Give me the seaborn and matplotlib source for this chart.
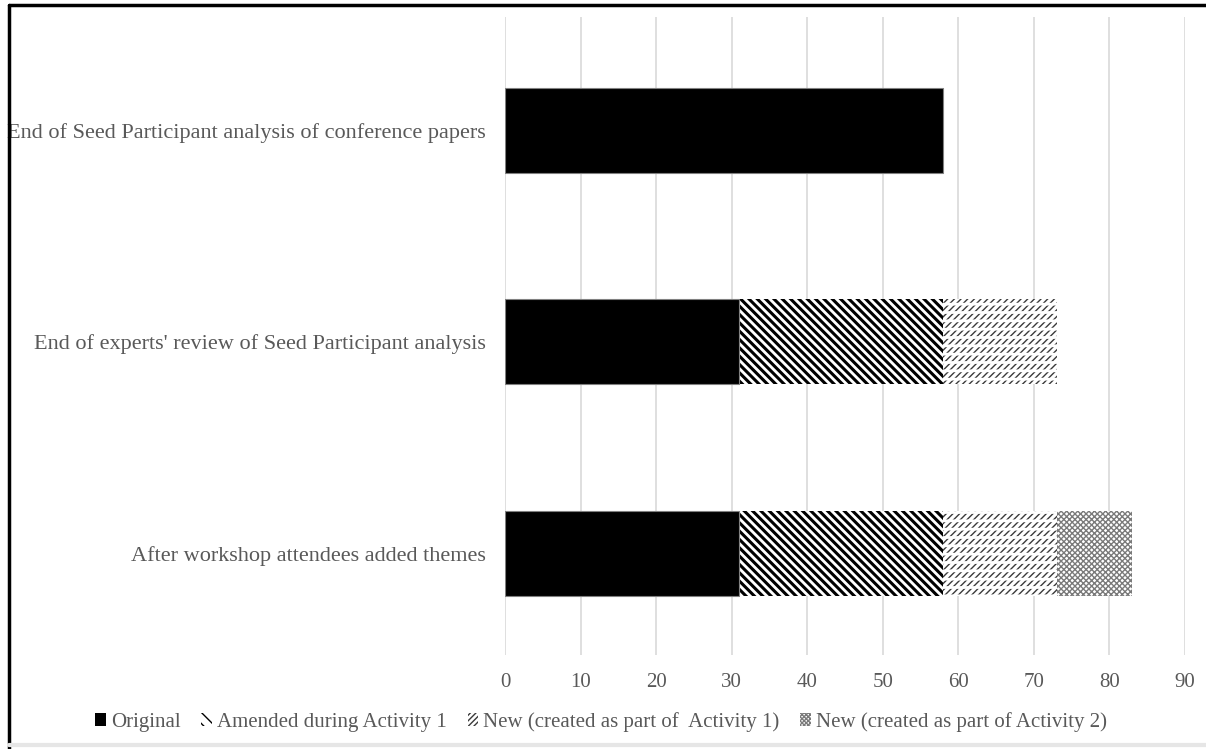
import matplotlib
matplotlib.use("Agg")
import matplotlib.pyplot as plt
import matplotlib.patches as mpatches
from matplotlib.lines import Line2D
import numpy as np
import pandas as pd
import seaborn as sns

# data
stages = [
    "End of Seed Participant analysis of conference papers",
    "End of experts' review of Seed Participant analysis",
    "After workshop attendees added themes",
]
series = [
    "Original",
    "Amended during Activity 1",
    "New (created as part of  Activity 1)",
    "New (created as part of Activity 2)",
]
original = [58, 31, 31]
amended = [0, 27, 27]
new_act1 = [0, 15, 15]
new_act2 = [0, 0, 10]

faces = ["black", "white", "white", "white"]
hatches = [None, "\\" * 4, "/" * 5, "x" * 6]
hatch_lw = [1.0, 2.2, 1.0, 1.0]
hatch_col = ["black", "black", "#3a3a3a", "#7a7a7a"]

sns.set_theme(style="white")
plt.rcParams["font.family"] = ["Liberation Serif", "DejaVu Serif"]
text_col = "#595959"


def style_hatch(patch, hatch, color, lw):
    patch.set_hatch(hatch)
    patch.set_edgecolor(color)
    if hasattr(patch, "set_hatch_linewidth"):
        patch.set_hatch_linewidth(lw)
    else:
        patch._hatch_linewidth = lw


fig = plt.figure(figsize=(12.06, 7.49), dpi=100)
ax = fig.add_axes([505 / 1206, 1 - 655 / 749, (1185 - 505) / 1206, (655 - 17) / 749])

segments = np.array([original, amended, new_act1, new_act2], dtype=float)
cum = segments.cumsum(axis=0)

# draw cumulative totals from the outermost segment inwards so each layer covers the next
for i in range(len(series) - 1, -1, -1):
    df = pd.DataFrame({"stage": stages, "value": cum[i]})
    sns.barplot(data=df, x="value", y="stage", orient="h", width=0.4,
                color=faces[i], ax=ax, saturation=1)
    new_bars = ax.patches[-len(stages):]
    for j, patch in enumerate(new_bars):
        patch.set_facecolor(faces[i])
        patch.set_linewidth(0)
        if i == 0:
            patch.set_edgecolor("#808080")
            patch.set_linewidth(0.8)
        else:
            style_hatch(patch, hatches[i], hatch_col[i], hatch_lw[i])
        if i > 0 and segments[i][j] == 0:
            patch.set_visible(False)
    if i == 2:
        # white horizontal breaks turn the fine diagonals into rows of dashes
        sns.barplot(data=df, x="value", y="stage", orient="h", width=0.4,
                    color="white", ax=ax, saturation=1)
        for j, patch in enumerate(ax.patches[-len(stages):]):
            patch.set_facecolor("none")
            patch.set_linewidth(0)
            style_hatch(patch, "--", "white", 2.0)
            if segments[i][j] == 0:
                patch.set_visible(False)

ax.set_xlim(0, 90)
ax.set_ylim(2.48, -0.535)
ax.set_xticks(range(0, 91, 10))
ax.grid(axis="x", color="#d9d9d9", linewidth=1.2)
ax.set_axisbelow(True)
for s in ax.spines.values():
    s.set_visible(False)
ax.set_xlabel("")
ax.set_ylabel("")
ax.tick_params(axis="x", length=0, pad=13, labelsize=15, labelcolor=text_col)
ax.tick_params(axis="y", length=0, pad=14, labelsize=16, labelcolor=text_col)

leg_hatch = [None, "\\" * 3, "/" * 6, "x" * 8]
handles = []
for i, name in enumerate(series):
    h = mpatches.Patch(facecolor=faces[i], edgecolor=hatch_col[i], linewidth=0,
                       hatch=leg_hatch[i], label=name)
    handles.append(h)
fig.legend(handles=handles, loc="center", bbox_to_anchor=(0.4985, 1 - 722 / 749),
           ncol=4, frameon=False, fontsize=15, labelcolor=text_col,
           handlelength=0.5, handleheight=0.6, handletextpad=0.25,
           columnspacing=1.0, borderaxespad=0)

# outer frame as in the source image
fig.add_artist(Line2D([9 / 1206, 9 / 1206], [0, 1 - 5 / 749], transform=fig.transFigure,
                      color="black", linewidth=2.5, zorder=6))
fig.add_artist(Line2D([9 / 1206, 1.01], [1 - 5 / 749, 1 - 5 / 749], transform=fig.transFigure,
                      color="black", linewidth=2.5, zorder=6))
fig.add_artist(Line2D([9 / 1206, 1.01], [4 / 749, 4 / 749], transform=fig.transFigure,
                      color="#e6e6e6", linewidth=3, zorder=6))

fig.savefig("out.png", dpi=100)
